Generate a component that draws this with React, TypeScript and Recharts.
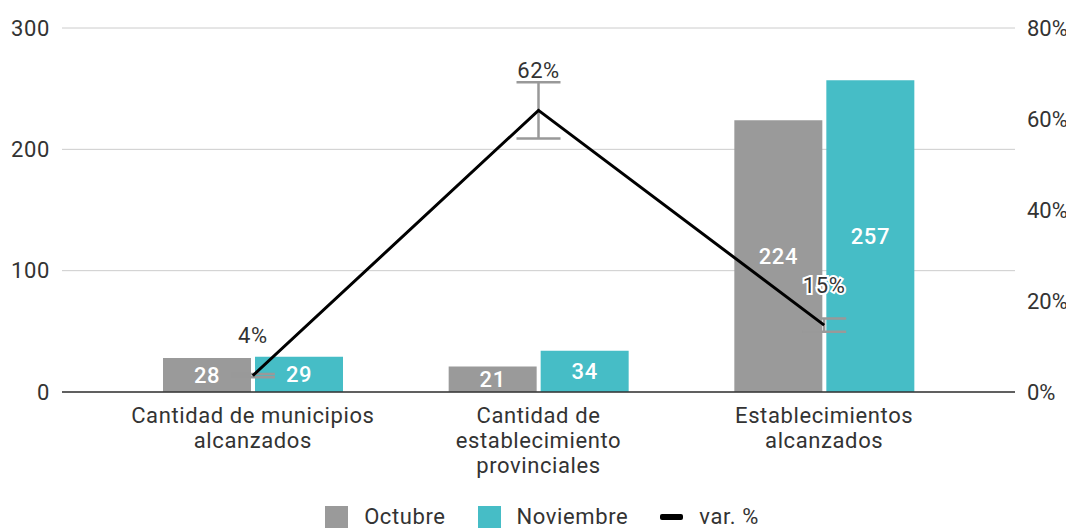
import React from "react";
import {
  ComposedChart,
  Bar,
  Line,
  XAxis,
  YAxis,
  CartesianGrid,
  Legend,
  LabelList,
  ErrorBar,
} from "recharts";

const categories = [
  "Cantidad de municipios alcanzados",
  "Cantidad de establecimiento provinciales",
  "Establecimientos alcanzados",
];
const octubre = [28, 21, 224];
const noviembre = [29, 34, 257];
const variacion = [3.6, 61.9, 14.7];
const variacionError = [0.36, 6.19, 1.47];
const leftTicks = [0, 100, 200, 300];
const rightTicks = [0, 20, 40, 60, 80];

const GRAY = "#9a9a9a";
const TEAL = "#46bdc6";
const TEXT = "#333333";
const FONT = "Roboto, 'Noto Sans', sans-serif";
const LS = "0.6px";

const data = categories.map((c, i) => ({
  name: c,
  octubre: octubre[i],
  noviembre: noviembre[i],
  var: variacion[i],
  err: variacionError[i],
}));

function wrap(text: string, max: number): string[] {
  const words = text.split(" ");
  const lines: string[] = [];
  let cur = "";
  for (const w of words) {
    const test = cur ? cur + " " + w : w;
    if (test.length > max && cur) {
      lines.push(cur);
      cur = w;
    } else {
      cur = test;
    }
  }
  if (cur) lines.push(cur);
  return lines;
}

const XTick = (props: any) => {
  const { x, y, payload } = props;
  const lines = wrap(String(payload.value), 22);
  return (
    <g>
      {lines.map((l, i) => (
        <text
          key={i}
          x={x}
          y={y + 23 + i * 25}
          textAnchor="middle"
          dominantBaseline="central"
          fill={TEXT}
          fontSize={22}
          fontFamily={FONT}
          letterSpacing={LS}
        >
          {l}
        </text>
      ))}
    </g>
  );
};

const LineLabel = (props: any) => {
  const { x, y, value } = props;
  return (
    <text
      x={x}
      y={y - 40}
      textAnchor="middle"
      dominantBaseline="central"
      fill={TEXT}
      fontSize={22}
      fontFamily={FONT}
      letterSpacing={LS}
      stroke="#ffffff"
      strokeWidth={4}
      paintOrder="stroke"
    >
      {`${Math.round(value)}%`}
    </text>
  );
};

const BarLabel = (props: any) => {
  const { x, y, width, height, value } = props;
  return (
    <text
      x={x + width / 2}
      y={y + height / 2}
      textAnchor="middle"
      dominantBaseline="central"
      fill="#ffffff"
      fontSize={22}
      fontWeight={500}
      fontFamily={FONT}
      letterSpacing={LS}
    >
      {value}
    </text>
  );
};

const legendItems = [
  { label: "Octubre", color: GRAY, type: "square" },
  { label: "Noviembre", color: TEAL, type: "square" },
  { label: "var. %", color: "#000000", type: "line" },
];

const LegendContent = () => (
  <div
    style={{
      display: "flex",
      justifyContent: "center",
      alignItems: "center",
      height: 22,
      fontFamily: FONT,
      fontSize: 22,
      lineHeight: "22px",
      letterSpacing: LS,
      color: TEXT,
      paddingLeft: 22,
    }}
  >
    {legendItems.map((it, i) => (
      <div
        key={i}
        style={{
          display: "flex",
          alignItems: "center",
          marginLeft: i === 0 ? 0 : 32,
        }}
      >
        {it.type === "square" ? (
          <div style={{ width: 23, height: 22, background: it.color }} />
        ) : (
          <div style={{ width: 23, height: 6, background: it.color, borderRadius: 2 }} />
        )}
        <span style={{ marginLeft: 16, lineHeight: "22px" }}>{it.label}</span>
      </div>
    ))}
  </div>
);

export default function App() {
  return (
    <div>
      <style>{`body{overflow:hidden}`}</style>
      <ComposedChart
        width={1066}
        height={520}
        data={data}
        margin={{ top: 20, right: 20, bottom: 0, left: 0 }}
        barSize={88}
        barGap={4}
        style={{ fontFamily: FONT }}
      >
        <CartesianGrid vertical={false} stroke="#cccccc" yAxisId="left" />
        <XAxis
          dataKey="name"
          xAxisId={0}
          height={114}
          padding={{ left: 48, right: 48 }}
          tickLine={false}
          axisLine={{ stroke: "#333333", strokeWidth: 1.5 }}
          tick={<XTick />}
          tickSize={0}
          tickMargin={0}
          interval={0}
        />
        <YAxis
          yAxisId="left"
          orientation="left"
          width={54}
          domain={[0, 300]}
          ticks={leftTicks}
          axisLine={false}
          tickLine={false}
          tickSize={0}
          tickMargin={12}
          tick={{ fill: TEXT, fontSize: 22, fontFamily: FONT, letterSpacing: LS }}
        />
        <YAxis
          yAxisId="right"
          orientation="right"
          width={39}
          domain={[0, 80]}
          ticks={rightTicks}
          axisLine={false}
          tickLine={false}
          tickSize={0}
          tickMargin={12}
          tickFormatter={(v: number) => `${v}%`}
          tick={{ fill: TEXT, fontSize: 22, fontFamily: FONT, textAnchor: "start" }}
        />
        <Legend
          verticalAlign="bottom"
          height={22}
          content={<LegendContent />}
          wrapperStyle={{ bottom: 0 }}
        />
        <Bar yAxisId="left" dataKey="octubre" name="Octubre" fill={GRAY} isAnimationActive={false}>
          <LabelList dataKey="octubre" content={<BarLabel />} />
        </Bar>
        <Bar yAxisId="left" dataKey="noviembre" name="Noviembre" fill={TEAL} isAnimationActive={false}>
          <LabelList dataKey="noviembre" content={<BarLabel />} />
        </Bar>
        <Line
          yAxisId="right"
          dataKey="var"
          name="var. %"
          stroke="#000000"
          strokeWidth={3}
          dot={false}
          activeDot={false}
          isAnimationActive={false}
          label={<LineLabel />}
        >
          <ErrorBar dataKey="err" width={22} stroke="#999999" strokeWidth={2.5} direction="y" />
        </Line>
      </ComposedChart>
    </div>
  );
}
